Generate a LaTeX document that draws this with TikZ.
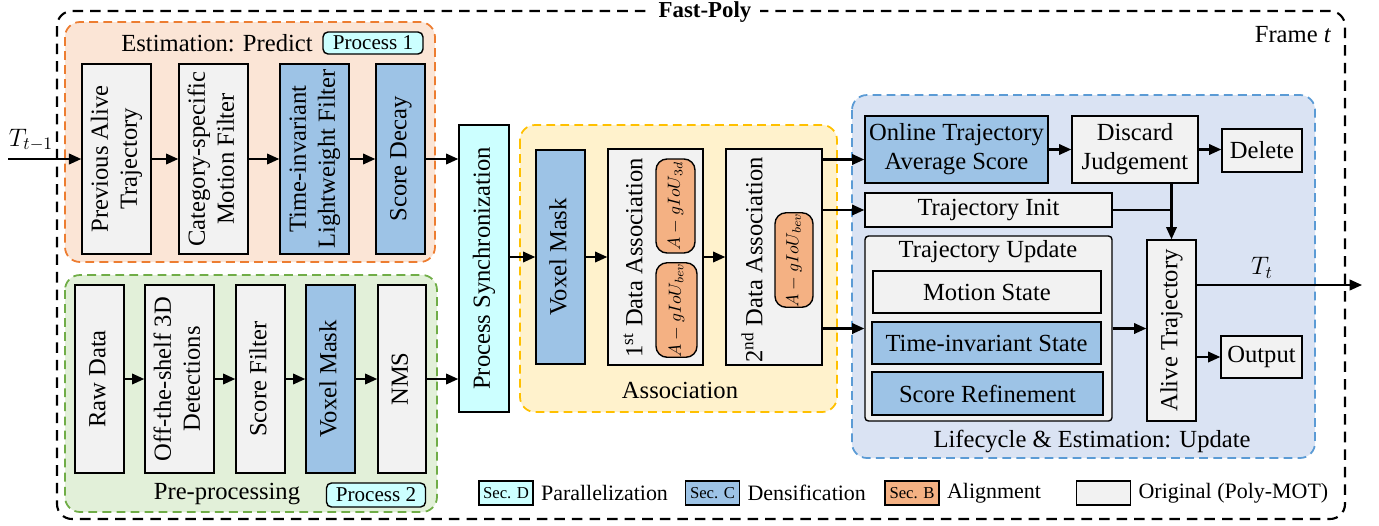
\documentclass[tikz,border=0pt]{standalone}
\usepackage{fontspec}
\setmainfont{Liberation Serif}
\usepackage{graphicx}
\usetikzlibrary{arrows.meta}

\definecolor{boxgray}{HTML}{F2F2F2}
\definecolor{boxblue}{HTML}{9DC3E6}
\definecolor{boxcyan}{HTML}{CCFFFF}
\definecolor{boxorange}{HTML}{F4B183}
\definecolor{predfill}{HTML}{FBE5D6}
\definecolor{predline}{HTML}{ED7D31}
\definecolor{prefill}{HTML}{E2F0D9}
\definecolor{preline}{HTML}{70AD47}
\definecolor{assofill}{HTML}{FFF2CC}
\definecolor{assoline}{HTML}{FFC000}
\definecolor{lifefill}{HTML}{DAE3F3}
\definecolor{lifeline}{HTML}{5B9BD5}

\newcommand{\vlab}[1]{\rotatebox{90}{\begin{tabular}{@{}c@{}}#1\end{tabular}}}

\tikzset{
  sz/.style 2 args={minimum width=#1*0.02cm, minimum height=#2*0.02cm},
  box/.style={draw, line width=0.8pt, fill=boxgray, inner sep=0pt, align=center},
  bluebox/.style={box, fill=boxblue},
  pill/.style={draw, line width=0.8pt, fill=boxorange, rounded corners=0.22cm, inner sep=0pt, font=\fontsize{10}{12}\selectfont},
  tag/.style={draw, line width=0.8pt, fill=boxcyan, rounded corners=0.1cm, inner sep=0pt, font=\fontsize{12}{14}\selectfont},
  region/.style={line width=1pt, rounded corners=0.3cm, dash pattern=on 5pt off 3pt},
  arr/.style={line width=1.2pt, -{Triangle[length=7pt,width=6pt]}},
}

\begin{document}
\begin{tikzpicture}[x=0.02cm, y=-0.02cm, font=\fontsize{14}{16.5}\selectfont]
\useasboundingbox (0,0) rectangle (1379,525);

% frame
\draw[line width=1.2pt, dash pattern=on 6pt off 4pt, rounded corners=0.3cm] (57,11) rectangle (1345,519);
\node[fill=white, inner xsep=5pt, inner ysep=1pt, font=\bfseries\fontsize{13}{15}\selectfont] (title) at (705,12) {Fast-Poly};
\node (frame) at (1293,35) {Frame \textit{t}};

% regions
\draw[region, draw=predline, fill=predfill] (65,22) rectangle (435,262);
\draw[region, draw=preline, fill=prefill] (65,275) rectangle (437,512);
\draw[region, draw=assoline, fill=assofill] (520,125) rectangle (837,412);
\draw[region, draw=lifeline, fill=lifefill] (852,95) rectangle (1315,458);

\node (predlab) at (217,43) {Estimation: Predict};
\node[tag, sz={100}{22}] (proc1) at (373,43) {Process 1};
\node (prelab) at (227,494) {Pre-processing};
\node[tag, sz={99}{24}] (proc2) at (376,495) {Process 2};
\node (assolab) at (680,390) {Association};
\node (lifelab) at (1092,441) {Lifecycle \& Estimation: Update};

% predict
\node[box, sz={69}{190}] (prev) at (116.5,159) {\vlab{Previous Alive\\Trajectory}};
\node[box, sz={69}{190}] (catf) at (213.5,159) {\vlab{Category-specific\\Motion Filter}};
\node[bluebox, sz={69}{190}] (tilf) at (314.5,159) {\vlab{Time-invariant\\Lightweight Filter}};
\node[bluebox, sz={49}{190}] (decay) at (400.5,159) {\vlab{Score Decay}};

% pre-processing
\node[box, sz={49}{188}] (raw) at (99.5,379) {\vlab{Raw Data}};
\node[box, sz={69}{188}] (ots) at (179.5,379) {\vlab{Off-the-shelf 3D\\Detections}};
\node[box, sz={49}{188}] (sfil) at (260.5,379) {\vlab{Score Filter}};
\node[bluebox, sz={49}{188}] (voxa) at (330.5,379) {\vlab{Voxel Mask}};
\node[box, sz={48}{188}] (nms) at (402,379) {\vlab{NMS}};

\node[box, fill=boxcyan, sz={50}{287}] (sync) at (484,268.5) {\vlab{Process Synchronization}};

% association
\node[bluebox, sz={49}{214}] (voxb) at (560.5,257) {\vlab{Voxel Mask}};
\node[box, sz={95}{216}] (daa) at (655.5,257) {};
\node[rotate=90] (daalab) at (633,258) {1\textsuperscript{st} Data Association};
\node[pill, sz={39}{94}] (giou3d) at (675.5,206) {\rotatebox{90}{$A-gIoU_{3d}$}};
\node[pill, sz={41}{94}] (gioubev) at (676.5,310) {\rotatebox{90}{$A-gIoU_{bev}$}};
\node[box, sz={96}{216}] (dab) at (774,257) {};
\node[rotate=90] (dablab) at (752,260) {2\textsuperscript{nd} Data Association};
\node[pill, sz={38}{94}] (gioubevb) at (794,260) {\rotatebox{90}{$A-gIoU_{bev}$}};

% lifecycle
\node[bluebox, sz={183}{67}] (online) at (956.5,149.5) {Online Trajectory\\Average Score};
\node[box, sz={126}{67}] (discard) at (1135,149.5) {Discard\\Judgement};
\node[box, sz={80}{43}] (delete) at (1262,150.5) {Delete};
\node[box, sz={247}{34}] (tinit) at (988.5,210) {Trajectory Init};
\node[box, rounded corners=2pt, sz={247}{185}] (tupd) at (988.5,328.5) {};
\node (tupdlab) at (988,252) {Trajectory Update};
\node[box, sz={228}{42}] (motion) at (987,292) {Motion State};
\node[bluebox, sz={229}{42}] (tis) at (986.5,343) {Time-invariant State};
\node[bluebox, sz={231}{43}] (sref) at (987.5,393.5) {Score Refinement};
\node[box, sz={49}{181}] (alive) at (1171.5,330.5) {\vlab{Alive Trajectory}};
\node[box, sz={81}{42}] (output) at (1261.5,357) {Output};

% connectors
\coordinate (tin) at (8,159);
\node (tinlab) at (31,140) {$T_{t-1}$};
\draw[arr] (tin) -- (prev.west);
\foreach \a/\b in {prev/catf, catf/tilf, tilf/decay, raw/ots, ots/sfil, sfil/voxa, voxa/nms,
                   voxb/daa, daa/dab, online/discard, discard/delete, tupd/alive}
  \draw[arr] (\a.east) -- (\a.east -| \b.west);
\draw[arr] (decay.east) -- (decay.east -| sync.west);
\draw[arr] (nms.east) -- (nms.east -| sync.west);
\draw[arr] (sync.east |- voxb.west) -- (voxb.west);
\coordinate (onin) at ([yshift=-0.2cm]online.west);
\draw[arr] (dab.east |- onin) -- (onin);
\draw[arr] (dab.east |- tinit.west) -- (tinit.west);
\draw[arr] (dab.east |- tupd.west) -- (tupd.west);
\draw[arr] (alive.north |- discard.south) -- (alive.north);
\draw[line width=1.2pt] (tinit.east) -- (tinit.east -| alive.north);
\draw[arr] (alive.east |- output.west) -- (output.west);
\coordinate (tout) at (1362,285);
\draw[arr] (alive.east |- tout) -- (tout);
\node (toutlab) at (1262,268) {$T_t$};

% legend
\foreach \x/\c/\s/\t [count=\i] in {506/boxcyan/Sec. D/Parallelization, 712.5/boxblue/Sec. C/Densification,
                                    912/boxorange/Sec. B/Alignment, 1103.5/boxgray//Original (Poly-MOT)}{
  \node[box, fill=\c, sz={54}{24}, font=\fontsize{9.5}{11}\selectfont] (leg\i) at (\x,493) {\s};
  \node[anchor=west, inner xsep=4pt, font=\fontsize{12.5}{14}\selectfont] (legtext\i) at (leg\i.east) {\t};
}
\end{tikzpicture}
\end{document}
